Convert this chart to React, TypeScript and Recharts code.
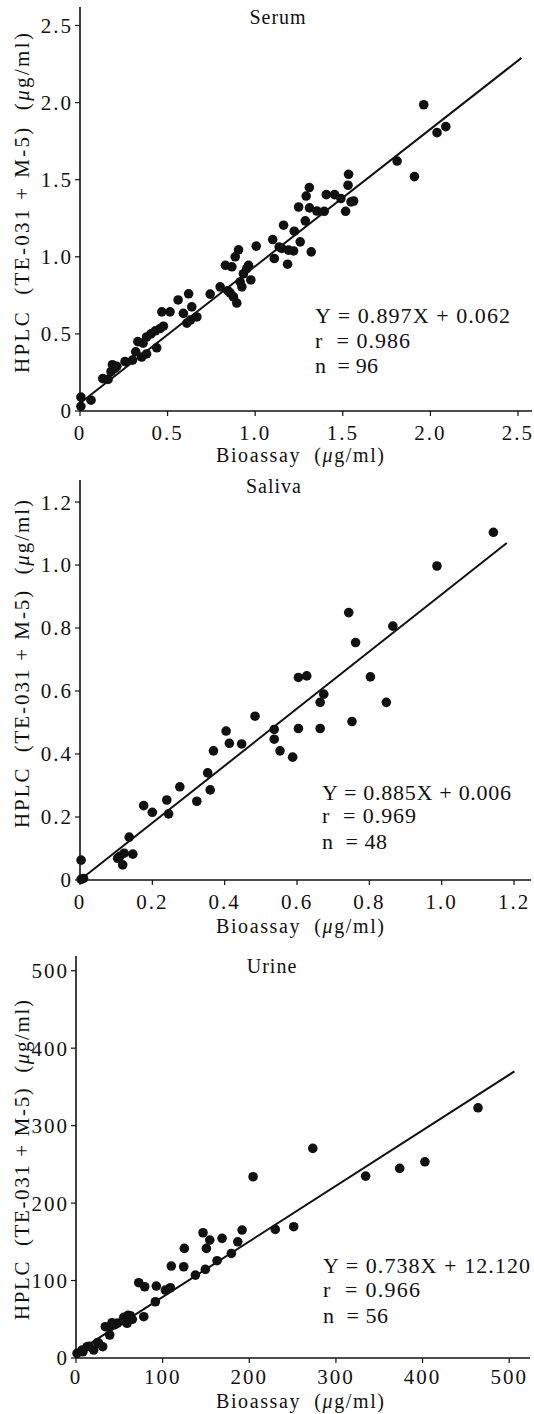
import React from "react";
import {
  ScatterChart,
  Scatter,
  XAxis,
  YAxis,
  ReferenceLine,
  Customized,
} from "recharts";

const FONT = "'Liberation Serif', 'Times New Roman', serif";
const INK = "#111";

// Serum
const serumBioassay = [
  0.005, 0.005, 0.063, 0.13, 0.16, 0.177, 0.185, 0.2, 0.21, 0.257, 0.3, 0.318,
  0.33, 0.352, 0.38, 0.36, 0.38, 0.405, 0.43, 0.457, 0.476, 0.438, 0.467, 0.514,
  0.56, 0.62, 0.59, 0.638, 0.61, 0.63, 0.667, 0.743, 0.8, 0.83, 0.867, 0.843,
  0.857, 0.876, 0.895, 0.905, 0.886, 0.914, 0.924, 0.933, 0.952, 0.962, 0.975,
  1.006, 1.1, 1.109, 1.137, 1.152, 1.162, 1.185, 1.19, 1.219, 1.223, 1.257,
  1.248, 1.286, 1.291, 1.309, 1.31, 1.32, 1.352, 1.394, 1.406, 1.453, 1.489,
  1.547, 1.516, 1.53, 1.533, 1.562, 1.81, 1.909, 1.962, 2.038, 2.088,
];
const serumHplc = [
  0.09, 0.03, 0.07, 0.21, 0.205, 0.255, 0.3, 0.277, 0.29, 0.32, 0.33, 0.384,
  0.45, 0.35, 0.37, 0.44, 0.48, 0.5, 0.52, 0.535, 0.55, 0.41, 0.643, 0.643,
  0.72, 0.76, 0.633, 0.675, 0.57, 0.59, 0.61, 0.758, 0.805, 0.945, 0.935, 0.78,
  0.766, 0.74, 0.7, 1.045, 1.0, 0.837, 0.805, 0.89, 0.924, 0.945, 0.85,
  1.069, 1.112, 0.989, 1.064, 1.054, 1.205, 0.952, 1.043, 1.038, 1.166, 1.097,
  1.323, 1.233, 1.394, 1.449, 1.317, 1.032, 1.297, 1.295, 1.403, 1.403, 1.378,
  1.356, 1.295, 1.464, 1.535, 1.362, 1.621, 1.52, 1.986, 1.805, 1.844,
];
const serumTicks = [0, 0.5, 1, 1.5, 2, 2.5];
const serumFitX = [0, 2.52];
const serumFitY = [0.05, 2.29];
const serumStats = ["Y = 0.897X + 0.062", "r  = 0.986", "n  = 96"];

// Saliva
const salivaBioassay = [
  0.003, 0.003, 0.01, 0.104, 0.11, 0.118, 0.122, 0.146, 0.136, 0.176, 0.2,
  0.24, 0.245, 0.276, 0.323, 0.353, 0.36, 0.369, 0.404, 0.413, 0.447, 0.484,
  0.537, 0.537, 0.553, 0.588, 0.604, 0.604, 0.627, 0.664, 0.664, 0.674, 0.743,
  0.752, 0.762, 0.803, 0.847, 0.865, 0.987, 1.143,
];
const salivaHplc = [
  0.063, 0.002, 0.005, 0.069, 0.075, 0.048, 0.085, 0.082, 0.136, 0.236, 0.215,
  0.254, 0.21, 0.296, 0.25, 0.34, 0.286, 0.41, 0.473, 0.434, 0.432, 0.52,
  0.447, 0.478, 0.41, 0.39, 0.643, 0.481, 0.648, 0.564, 0.481, 0.59, 0.849,
  0.503, 0.754, 0.645, 0.564, 0.806, 0.997, 1.104,
];
const salivaTicks = [0, 0.2, 0.4, 0.6, 0.8, 1.0, 1.2];
const salivaFitX = [0, 1.18];
const salivaFitY = [0.0, 1.07];
const salivaStats = ["Y = 0.885X + 0.006", "r  = 0.969", "n  = 48"];

// Urine
const urineBioassay = [
  1.2, 6.9, 8, 12.7, 15, 20.4, 25, 26.2, 30.8, 33.8, 38.9, 39.6, 41.6, 45, 48,
  55.1, 57, 58.9, 60, 62.7, 65, 72.4, 78.2, 79.3, 91.6, 92.7, 103.1, 108.9, 110,
  124.3, 125, 137.8, 146.6, 149.3, 150.5, 154.4, 162.8, 168.6, 179.3, 186.7,
  191.7, 204.4, 230, 251.3, 273.3, 334.3, 373.6, 402.7, 464,
];
const urineHplc = [
  6, 10.3, 8, 14.6, 15, 10.3, 20, 19, 14.6, 40.4, 29.7, 40.4, 45.5, 43, 45,
  52.5, 47, 44.8, 55, 54.6, 50, 97.2, 53.3, 92, 72.6, 92.9, 87.7, 90.7, 118.7,
  117.8, 141.5, 107, 161.7, 114.4, 141.5, 152.3, 125.6, 154.5, 135, 150, 165.2,
  234, 166, 169.5, 270.6, 234.8, 244.8, 253.3, 323,
];
const urineTicks = [0, 100, 200, 300, 400, 500];
const urineFitX = [0, 506];
const urineFitY = [7, 370];
const urineStats = ["Y = 0.738X + 12.120", "r  = 0.966", "n  = 56"];

const toPoints = (xs: number[], ys: number[]) =>
  xs.map((x, i) => ({ x, y: ys[i] }));

const decimalFmt = (v: number) => (v === 0 ? "0" : v.toFixed(1));
const intFmt = (v: number) => String(v);

type PanelProps = {
  title: string;
  xs: number[];
  ys: number[];
  ticks: number[];
  fitX: number[];
  fitY: number[];
  stats: string[];
  fmt: (v: number) => string;
  xDomain: [number, number];
  yDomain: [number, number];
  top: number;
  height: number;
  margin: { top: number; right: number; bottom: number; left: number };
  yAxisWidth: number;
  xAxisHeight: number;
  xTickMargin: number;
  titleX: number;
  titleY: number;
  statsX: number;
  statsY: number[];
  statsW: number[];
  yLabelY: number;
  yLabelLen: number;
  xLabelY: number;
};

function Overlay({ p }: { p: PanelProps }) {
  return (
    <g fontFamily={FONT} fill={INK}>
      <text x={p.titleX} y={p.titleY} textAnchor="middle" fontSize={20} letterSpacing={1}>
        {p.title}
      </text>
      {p.stats.map((s, i) => (
        <text
          key={s}
          x={p.statsX}
          y={p.statsY[i]}
          fontSize={22}
          textLength={p.statsW[i]}
          lengthAdjust="spacing"
          style={{ whiteSpace: "pre" }}
        >
          {s}
        </text>
      ))}
      <text
        transform={`translate(22, ${p.yLabelY}) rotate(-90)`}
        textAnchor="middle"
        dominantBaseline="central"
        fontSize={21}
        textLength={p.yLabelLen}
        lengthAdjust="spacing"
        style={{ whiteSpace: "pre" }}
      >
        HPLC  (TE-031 + M-5)  (<tspan fontStyle="italic">μ</tspan>g/ml)
      </text>
      <text
        x={300}
        y={p.xLabelY}
        textAnchor="middle"
        fontSize={20}
        textLength={168}
        lengthAdjust="spacing"
        style={{ whiteSpace: "pre" }}
      >
        Bioassay  (<tspan fontStyle="italic">μ</tspan>g/ml)
      </text>
    </g>
  );
}

const tickStyle = { fontSize: 21, fill: INK, fontFamily: FONT, letterSpacing: 2 };

function Panel(p: PanelProps) {
  const data = toPoints(p.xs, p.ys);
  return (
    <div style={{ position: "absolute", left: 0, top: p.top }}>
      <ScatterChart width={534} height={p.height} margin={p.margin}>
        <XAxis
          type="number"
          dataKey="x"
          domain={p.xDomain}
          ticks={p.ticks}
          interval={0}
          tickFormatter={p.fmt}
          height={p.xAxisHeight}
          tickSize={5}
          tickMargin={p.xTickMargin}
          axisLine={{ stroke: INK, strokeWidth: 1.6 }}
          tickLine={{ stroke: INK, strokeWidth: 1.2 }}
          tick={tickStyle}
        />
        <YAxis
          type="number"
          dataKey="y"
          domain={p.yDomain}
          ticks={p.ticks}
          interval={0}
          tickFormatter={p.fmt}
          width={p.yAxisWidth}
          tickSize={5}
          tickMargin={2}
          axisLine={{ stroke: INK, strokeWidth: 1.6 }}
          tickLine={{ stroke: INK, strokeWidth: 1.2 }}
          tick={tickStyle}
        />
        <ReferenceLine
          segment={[
            { x: p.fitX[0], y: p.fitY[0] },
            { x: p.fitX[1], y: p.fitY[1] },
          ]}
          stroke={INK}
          strokeWidth={2}
          ifOverflow="visible"
        />
        <Scatter
          data={data}
          isAnimationActive={false}
          shape={(s: any) => <circle cx={s.cx} cy={s.cy} r={4.8} fill={INK} />}
        />
        <Customized component={<Overlay p={p} />} />
      </ScatterChart>
    </div>
  );
}

export default function App() {
  return (
    <div
      style={{
        position: "absolute",
        left: 0,
        top: 0,
        width: 534,
        height: 1414,
        background: "#fff",
      }}
    >
      <Panel
        title="Serum"
        xs={serumBioassay}
        ys={serumHplc}
        ticks={serumTicks}
        fitX={serumFitX}
        fitY={serumFitY}
        stats={serumStats}
        fmt={decimalFmt}
        xDomain={[0, 2.58]}
        yDomain={[0, 2.62]}
        top={0}
        height={470}
        margin={{ top: 7, right: 2, bottom: 0, left: 0 }}
        yAxisWidth={80}
        xAxisHeight={59}
        xTickMargin={9}
        titleX={278}
        titleY={24}
        statsX={315}
        statsY={[323, 348, 373]}
        statsW={[195, 95, 63]}
        yLabelY={203}
        yLabelLen={340}
        xLabelY={462}
      />
      <Panel
        title="Saliva"
        xs={salivaBioassay}
        ys={salivaHplc}
        ticks={salivaTicks}
        fitX={salivaFitX}
        fitY={salivaFitY}
        stats={salivaStats}
        fmt={decimalFmt}
        xDomain={[0, 1.247]}
        yDomain={[0, 1.27]}
        top={470}
        height={470}
        margin={{ top: 10, right: 3, bottom: 0, left: 0 }}
        yAxisWidth={80}
        xAxisHeight={60}
        xTickMargin={9}
        titleX={274}
        titleY={23}
        statsX={322}
        statsY={[330, 353, 379]}
        statsW={[189, 94, 65]}
        yLabelY={194}
        yLabelLen={328}
        xLabelY={463}
      />
      <Panel
        title="Urine"
        xs={urineBioassay}
        ys={urineHplc}
        ticks={urineTicks}
        fitX={urineFitX}
        fitY={urineFitY}
        stats={urineStats}
        fmt={intFmt}
        xDomain={[0, 524]}
        yDomain={[0, 519]}
        top={940}
        height={474}
        margin={{ top: 16, right: 4, bottom: 0, left: 0 }}
        yAxisWidth={76}
        xAxisHeight={56}
        xTickMargin={6}
        titleX={272}
        titleY={33}
        statsX={323}
        statsY={[333, 357, 383]}
        statsW={[207, 97, 65]}
        yLabelY={220}
        yLabelLen={320}
        xLabelY={468}
      />
    </div>
  );
}
